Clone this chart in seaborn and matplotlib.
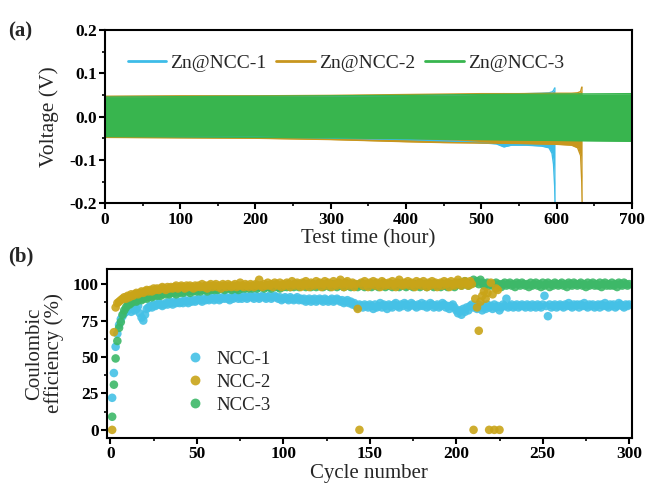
import numpy as np
import pandas as pd
import matplotlib
matplotlib.use("Agg")
import matplotlib.pyplot as plt
import seaborn as sns
from matplotlib.ticker import MultipleLocator, FixedFormatter

# ---------------- data: panel (a) voltage envelopes ----------------
t_ncc1 = [0, 100, 200, 300, 400, 480, 520, 530, 540, 560, 580, 590, 594, 596, 597.5, 598]
up_ncc1 = [0.046, 0.047, 0.047, 0.048, 0.049, 0.051, 0.052, 0.053, 0.052, 0.053, 0.054, 0.055, 0.057, 0.060, 0.066, 0.066]
lo_ncc1 = [-0.047, -0.048, -0.048, -0.050, -0.053, -0.058, -0.063, -0.070, -0.066, -0.066, -0.068, -0.072, -0.085, -0.11, -0.16, -0.20]

t_ncc2 = [0, 100, 200, 300, 400, 450, 500, 550, 600, 620, 628, 632, 633.5, 634]
up_ncc2 = [0.047, 0.048, 0.048, 0.049, 0.051, 0.052, 0.053, 0.053, 0.054, 0.054, 0.055, 0.058, 0.068, 0.068]
lo_ncc2 = [-0.048, -0.049, -0.050, -0.053, -0.058, -0.060, -0.061, -0.062, -0.064, -0.066, -0.072, -0.09, -0.15, -0.20]

t_ncc3 = [0, 100, 200, 300, 400, 500, 600, 700]
up_ncc3 = [0.045, 0.046, 0.047, 0.048, 0.049, 0.051, 0.052, 0.053]
lo_ncc3 = [-0.046, -0.047, -0.048, -0.049, -0.051, -0.053, -0.055, -0.057]

volt_labels = ["Zn@NCC-1", "Zn@NCC-2", "Zn@NCC-3"]

# ---------------- data: panel (b) coulombic efficiency ----------------
ce_ncc1 = [
    22, 39, 57, 66, 72, 76, 78, 80, 81, 82,
    83, 81, 84, 82, 83, 85, 80, 77, 75, 79,
    83, 84, 85, 84, 86, 85, 86, 87, 86, 85,
    86, 87, 86, 88, 87, 86, 88, 87, 88, 87,
    88, 87, 89, 88, 87, 89, 88, 89, 88, 89,
    90, 89, 88, 90, 89, 90, 89, 90, 91, 89,
    90, 91, 89, 90, 91, 90, 91, 90, 89, 91,
    90, 91, 92, 90, 91, 90, 92, 91, 90, 91,
    92, 91, 90, 92, 91, 90, 91, 92, 91, 90,
    91, 92, 90, 91, 92, 91, 90, 91, 89, 90,
    91, 90, 89, 91, 90, 89, 90, 91, 89, 90,
    89, 90, 88, 89, 90, 88, 89, 90, 88, 89,
    90, 89, 88, 90, 89, 88, 89, 90, 88, 89,
    90, 89, 88, 89, 87, 88, 89, 87, 88, 86,
    87, 85, 84, 86, 85, 84, 86, 85, 84, 86,
    85, 83, 86, 84, 85, 87, 84, 86, 85, 83,
    86, 85, 84, 86, 87, 85, 84, 86, 85, 87,
    86, 84, 85, 87, 86, 85, 84, 86, 85, 87,
    85, 86, 84, 85, 87, 86, 84, 85, 86, 84,
    85, 87, 86, 84, 85, 83, 85, 86, 84, 82,
    80, 82, 79, 83, 81, 84, 82, 85, 86, 84,
    85, 83, 86, 84, 82, 85, 83, 86, 84, 85,
    83, 86, 84, 85, 82, 84, 86, 85, 90, 84,
    85, 86, 84, 85, 86, 84, 85, 86, 85, 84,
    86, 85, 84, 86, 85, 84, 86, 85, 84, 86,
    92, 85, 78, 86, 84, 85, 86, 84, 85, 86,
    85, 84, 86, 85, 87, 85, 84, 86, 85, 86,
    84, 86, 85, 87, 85, 84, 86, 85, 86, 84,
    85, 86, 84, 86, 85, 87, 85, 84, 86, 85,
    86, 84, 85, 87, 86, 85, 84, 86, 85, 86,
]

ce_ncc2 = [
    0, 67, 84, 87, 88, 89, 90, 91, 90, 92,
    91, 93, 92, 93, 94, 93, 94, 95, 94, 95,
    96, 95, 96, 95, 97, 96, 97, 96, 97, 98,
    97, 96, 98, 97, 98, 97, 98, 99, 97, 98,
    99, 98, 97, 99, 98, 99, 98, 97, 99, 98,
    99, 98, 100, 98, 99, 97, 99, 100, 98, 99,
    100, 98, 99, 97, 100, 99, 98, 100, 99, 98,
    99, 100, 98, 99, 101, 99, 98, 100, 99, 98,
    100, 99, 98, 100, 99, 103, 99, 98, 100, 99,
    101, 99, 100, 98, 101, 100, 99, 101, 98, 100,
    99, 101, 100, 98, 102, 100, 99, 101, 100, 98,
    101, 99, 102, 100, 98, 101, 100, 99, 102, 100,
    101, 98, 100, 102, 99, 101, 100, 98, 102, 100,
    99, 101, 103, 100, 98, 101, 102, 99, 100, 101,
    98, 100, 83, 0, 101, 99, 102, 100, 98, 101,
    100, 102, 99, 101, 100, 98, 102, 101, 99, 100,
    101, 99, 102, 100, 98, 101, 103, 100, 99, 101,
    100, 102, 99, 101, 100, 98, 102, 100, 101, 99,
    102, 100, 98, 101, 99, 102, 100, 101, 98, 100,
    101, 99, 102, 100, 101, 98, 102, 100, 99, 101,
    103, 100, 99, 101, 102, 100, 99, 102, 100, 0,
    90, 84, 68, 88, 92, 95, 90, 94, 0, 101,
    93, 0, 97, 96, 0,
]

ce_ncc3 = [
    9, 31, 49, 61, 70, 74, 79, 82, 84, 86,
    86, 87, 88, 89, 88, 89, 90, 89, 90, 91,
    90, 91, 92, 91, 92, 93, 92, 93, 92, 93,
    94, 93, 94, 93, 94, 95, 94, 93, 95, 94,
    95, 94, 95, 96, 95, 94, 96, 95, 96, 95,
    96, 95, 96, 97, 96, 95, 97, 96, 97, 96,
    97, 96, 97, 98, 97, 96, 97, 98, 97, 96,
    97, 98, 97, 96, 98, 97, 98, 97, 98, 97,
    98, 97, 98, 99, 97, 98, 99, 98, 97, 98,
    99, 98, 97, 99, 98, 99, 98, 97, 99, 98,
    99, 98, 100, 98, 99, 98, 100, 99, 98, 99,
    100, 99, 98, 100, 99, 98, 100, 99, 98, 100,
    99, 100, 98, 99, 100, 99, 98, 100, 99, 100,
    98, 99, 100, 99, 98, 100, 99, 100, 98, 99,
    100, 99, 98, 100, 99, 100, 98, 99, 100, 99,
    98, 100, 99, 100, 98, 99, 100, 99, 98, 100,
    99, 100, 98, 99, 100, 99, 98, 100, 99, 100,
    98, 99, 100, 99, 98, 100, 99, 100, 98, 99,
    100, 99, 98, 100, 99, 100, 98, 99, 100, 99,
    98, 100, 99, 100, 98, 99, 100, 99, 98, 100,
    100, 101, 99, 100, 102, 101, 99, 100, 101, 103,
    101, 102, 100, 103, 101, 99, 100, 101, 99, 100,
    99, 100, 101, 99, 100, 98, 100, 101, 99, 100,
    101, 99, 100, 98, 101, 100, 99, 101, 100, 99,
    100, 98, 101, 99, 100, 101, 99, 100, 98, 101,
    99, 100, 101, 98, 100, 99, 101, 100, 99, 100,
    101, 99, 100, 98, 101, 100, 99, 101, 100, 99,
    100, 101, 99, 100, 98, 101, 99, 100, 101, 99,
    100, 99, 101, 98, 100, 101, 99, 100, 99, 101,
    99, 100, 98, 101, 100, 99, 101, 100, 99, 100,
]

ce_labels = ["NCC-1", "NCC-2", "NCC-3"]

# ---------------- style ----------------
sns.set_theme(style="ticks")
plt.rcParams["font.family"] = ["Liberation Serif", "DejaVu Serif"]
plt.rcParams["font.weight"] = "bold"
plt.rcParams["axes.labelweight"] = "normal"
plt.rcParams["axes.linewidth"] = 1.5
plt.rcParams["xtick.major.width"] = 1.5
plt.rcParams["ytick.major.width"] = 1.5
plt.rcParams["xtick.minor.width"] = 1.2
plt.rcParams["ytick.minor.width"] = 1.2
plt.rcParams["xtick.major.size"] = 4
plt.rcParams["ytick.major.size"] = 4
plt.rcParams["xtick.minor.size"] = 2.5
plt.rcParams["ytick.minor.size"] = 2.5
plt.rcParams["xtick.direction"] = "out"
plt.rcParams["ytick.direction"] = "out"

c_blue_line = "#3DBCE8"
c_gold_line = "#C8961E"
c_green_line = "#38B54E"
c_blue_pt = "#45C1E6"
c_gold_pt = "#C9A418"
c_green_pt = "#3DB868"

fig = plt.figure(figsize=(6.46, 4.92), dpi=100)
ax1 = fig.add_axes([0.1625, 0.587, 0.8155, 0.352])
ax2 = fig.add_axes([0.1656, 0.110, 0.8124, 0.343])

# ---------------- panel (a) ----------------
series_a = [
    (t_ncc1, up_ncc1, lo_ncc1, c_blue_line, volt_labels[0]),
    (t_ncc2, up_ncc2, lo_ncc2, c_gold_line, volt_labels[1]),
    (t_ncc3, up_ncc3, lo_ncc3, c_green_line, volt_labels[2]),
]
for t, up, lo, col, lab in series_a:
    ax1.fill_between(t, lo, up, color=col, linewidth=0)
    sns.lineplot(x=t, y=up, ax=ax1, color=col, linewidth=1.0, label=lab)
    sns.lineplot(x=t, y=lo, ax=ax1, color=col, linewidth=1.0)

ax1.set_xlim(0, 700)
ax1.set_ylim(-0.2, 0.2)
ax1.xaxis.set_major_locator(MultipleLocator(100))
ax1.xaxis.set_minor_locator(MultipleLocator(50))
ax1.yaxis.set_major_locator(MultipleLocator(0.1))
ax1.yaxis.set_minor_locator(MultipleLocator(0.05))
ax1.yaxis.set_major_formatter(FixedFormatter(["-0.2", "-0.1", "0.0", "0.1", "0.2"]))
ax1.set_yticks([-0.2, -0.1, 0.0, 0.1, 0.2])
ax1.set_xlabel("Test time (hour)", fontsize=15, labelpad=1)
ax1.set_ylabel("Voltage (V)", fontsize=15.5, labelpad=7)
leg1 = ax1.legend(loc="upper center", ncol=3, frameon=False,
                  prop={"size": 14, "weight": "normal"},
                  handlelength=2.0, handletextpad=0.2, columnspacing=0.5,
                  bbox_to_anchor=(0.457, 0.96))
for h in leg1.get_lines():
    h.set_linewidth(2.0)

# ---------------- panel (b) ----------------
frames = []
for lab, vals in [(ce_labels[0], ce_ncc1), (ce_labels[2], ce_ncc3), (ce_labels[1], ce_ncc2)]:
    frames.append(pd.DataFrame({"cycle": np.arange(1, len(vals) + 1), "ce": vals, "series": lab}))
df = pd.concat(frames, ignore_index=True)

sns.scatterplot(data=df, x="cycle", y="ce", hue="series", hue_order=ce_labels,
                palette={ce_labels[0]: c_blue_pt, ce_labels[1]: c_gold_pt, ce_labels[2]: c_green_pt},
                s=38, edgecolor="none", alpha=0.9, ax=ax2)

ax2.set_xlim(-2, 301.5)
ax2.set_ylim(-5.5, 110.3)
ax2.xaxis.set_major_locator(MultipleLocator(50))
ax2.xaxis.set_minor_locator(MultipleLocator(25))
ax2.yaxis.set_major_locator(MultipleLocator(25))
ax2.yaxis.set_minor_locator(MultipleLocator(12.5))
ax2.set_xlabel("Cycle number", fontsize=15, labelpad=1)
ax2.set_ylabel("Coulombic\nefficiency (%)", fontsize=15, labelpad=6, linespacing=1.0)
leg2 = ax2.legend(loc="center left", frameon=False,
                  prop={"size": 13.5, "weight": "normal"},
                  bbox_to_anchor=(0.1, 0.33), handletextpad=0.15, labelspacing=0.3,
                  markerscale=1.15)

for ax in (ax1, ax2):
    for sp in ax.spines.values():
        sp.set_visible(True)
        sp.set_color("black")
    ax.tick_params(which="both", top=False, right=False, labelsize=12.5, pad=2, colors="black")

fig.text(0.012, 0.935, "(a)", fontsize=15, fontweight="bold", ha="left", va="center")
fig.text(0.012, 0.478, "(b)", fontsize=15, fontweight="bold", ha="left", va="center")

fig.savefig("out.png", dpi=100)
